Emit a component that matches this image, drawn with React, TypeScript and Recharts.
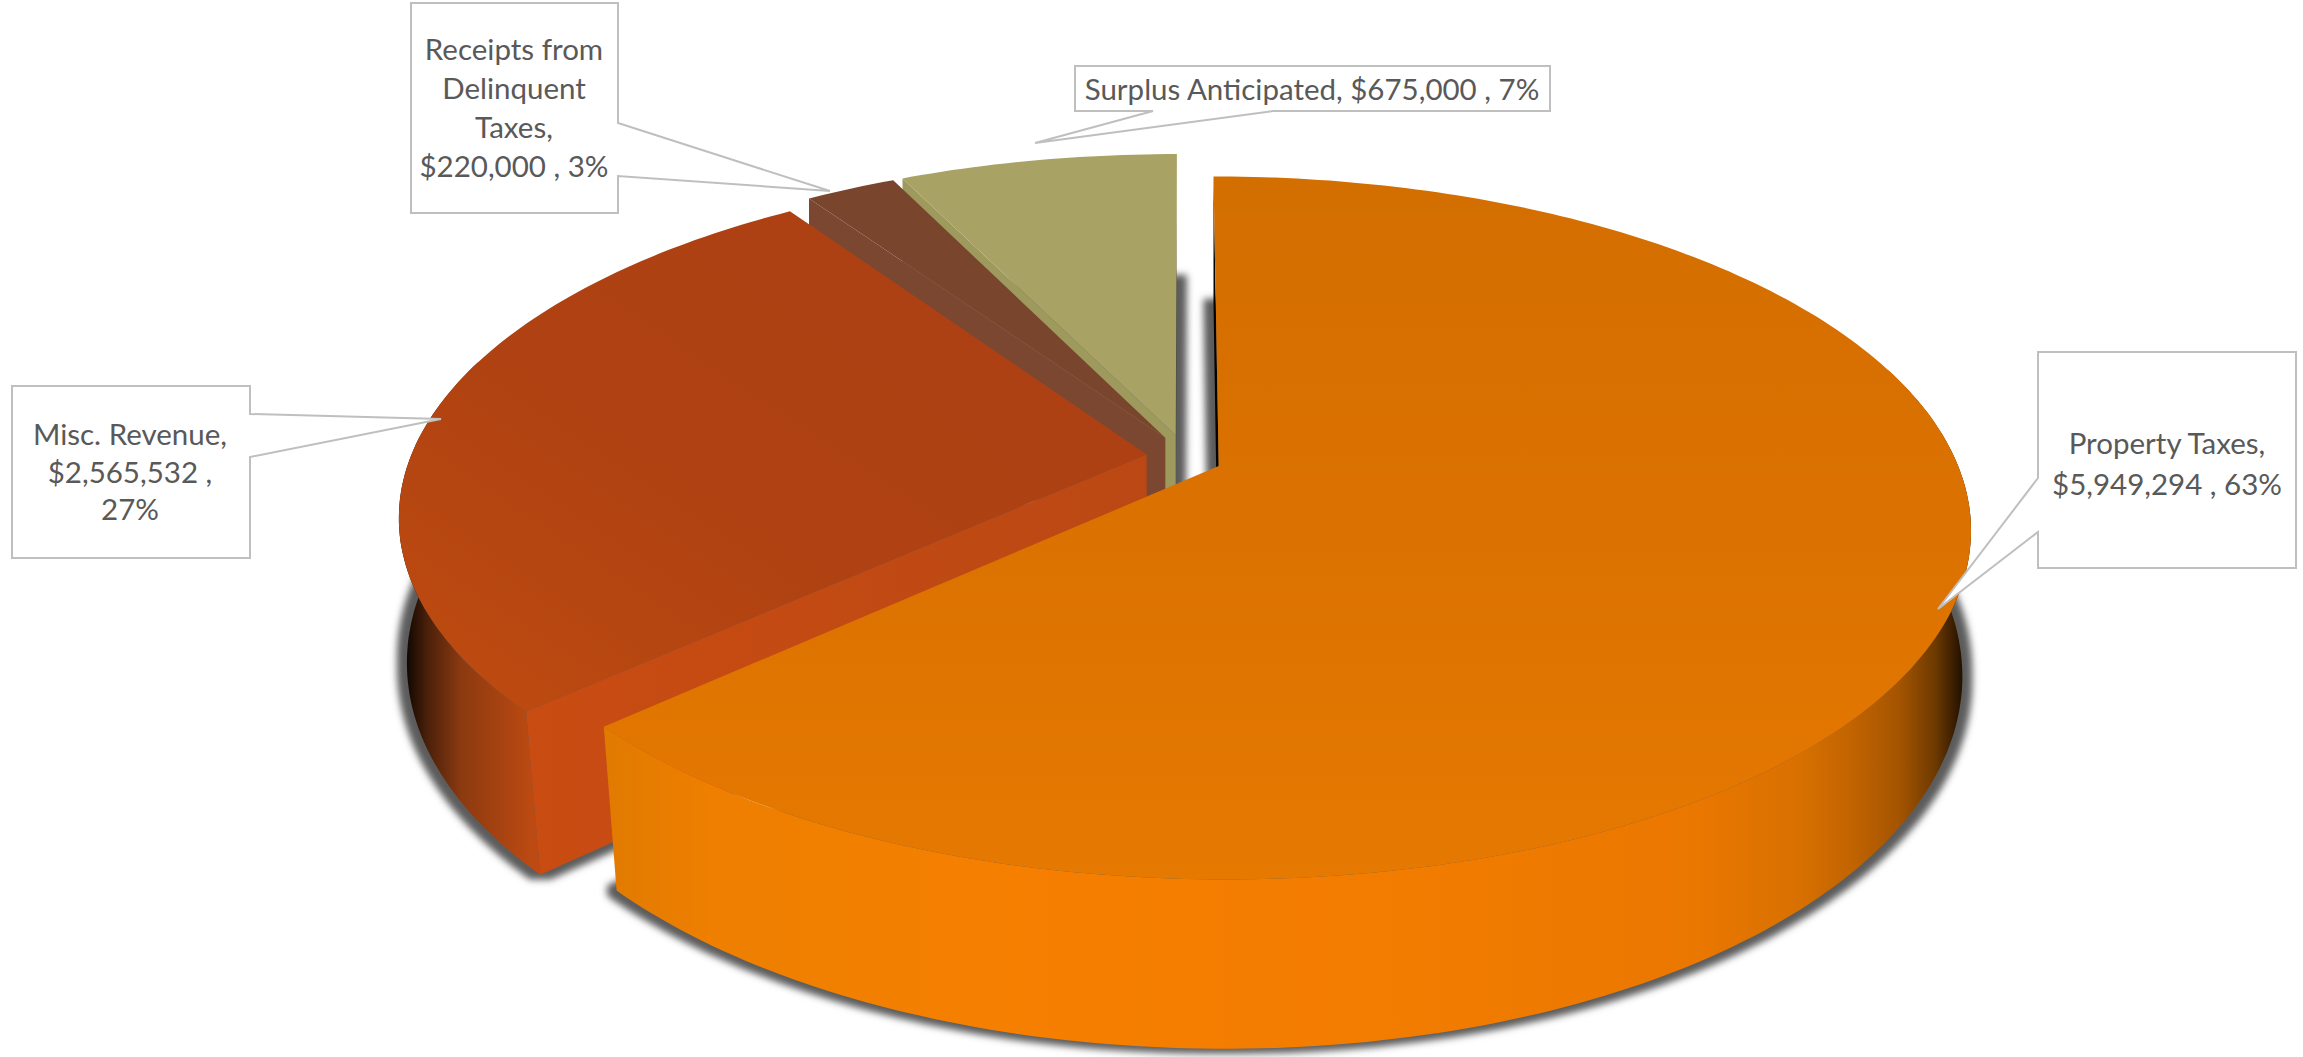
import React from "react";
import { PieChart, Pie } from "recharts";

// Revenue sources, ordered back to front so later slices paint over earlier ones.
const sourceNames = ["Surplus Anticipated", "Receipts from Delinquent Taxes", "Misc. Revenue", "Property Taxes"];
const sourceAmounts = [675000, 220000, 2565532, 5949294];
const calloutLines = [
  ["Surplus Anticipated, $675,000 , 7%"],
  ["Receipts from", "Delinquent", "Taxes,", "$220,000 , 3%"],
  ["Misc. Revenue,", "$2,565,532 ,", "27%"],
  ["Property Taxes,", "$5,949,294 , 63%"],
];

const rows = sourceNames.map((name, i) => ({ name, value: sourceAmounts[i] }));

// Callout geometry: box, wedge tip and the two wedge roots on the box outline.
const callouts = [
  { x: 1075, y: 66, w: 475, h: 45, side: "bottom", a: 1153, b: 1273, tipX: 1035, tipY: 143, firstLine: 99.5, step: 38, textX: 1312 },
  { x: 411, y: 3, w: 207, h: 210, side: "right", a: 123, b: 176, tipX: 830, tipY: 191, firstLine: 60, step: 39, textX: 514 },
  { x: 12, y: 386, w: 238, h: 172, side: "right", a: 414, b: 457, tipX: 441, tipY: 419, firstLine: 445, step: 37.5, textX: 130 },
  { x: 2038, y: 352, w: 258, h: 216, side: "left", a: 478, b: 532, tipX: 1938, tipY: 609, firstLine: 454, step: 41, textX: 2167 },
];

const topFills = ["#a9a265", "#79452c", "url(#miscTop)", "url(#propertyTop)"];
const wallFills = ["#8f8a55", "#63381f", "url(#miscWall)", "url(#propertyWall)"];
const startFaceFills = ["#4a4a3a", "#6e4028", "#8a3a10", "#b05c00"];
const endFaceFills = ["#9e995c", "#7c4730", "url(#miscFace)", "#050300"];

// Perspective model for the tilted disc.
const TILT = 0.4585;
const PERSPECTIVE = 0.175;
const THICKNESS = 149;
const DEPTH_SHRINK = 0.022;
const EXPLODE = 0.0513;
const EXPLODE_DEPTH_FACTOR = 1.3;
const ARC_STEP = 1;
const WALL_HORIZON = 0.3;

type Point = [number, number];

const project = (cx: number, cy: number, r: number, wx: number, wy: number, depth: number): Point => {
  const s = 1 / (1 - PERSPECTIVE * wy);
  // The lower rim pulls in more toward the viewer than at the sides of the disc.
  const k = 1 - DEPTH_SHRINK * depth * Math.max(0, 0.3 + wy);
  return [cx + r * wx * s * k, cy + r * TILT * wy * s * k + THICKNESS * depth * s];
};

const toPath = (pts: Point[]) =>
  pts.length ? pts.map((p, i) => `${i ? "L" : "M"}${p[0].toFixed(1)} ${p[1].toFixed(1)}`).join("") + "Z" : "";

const signedArea = (pts: Point[]) =>
  pts.reduce((sum, p, i) => {
    const q = pts[(i + 1) % pts.length];
    return sum + p[0] * q[1] - q[0] * p[1];
  }, 0);

const sliceFaces = (props: any) => {
  const { cx, cy, outerRadius: r, startAngle, endAngle } = props;
  const rad = Math.PI / 180;
  const mid = ((startAngle + endAngle) / 2) * rad;
  const ox = EXPLODE * Math.cos(mid);
  const oy = -EXPLODE * EXPLODE_DEPTH_FACTOR * Math.sin(mid);
  const rimAngles: number[] = [];
  for (let a = startAngle; a < endAngle; a += ARC_STEP) rimAngles.push(a);
  rimAngles.push(endAngle);
  const rim = (a: number, depth: number) =>
    project(cx, cy, r, ox + Math.cos(a * rad), oy - Math.sin(a * rad), depth);
  const apex = (depth: number) => project(cx, cy, r, ox, oy, depth);
  const frontAngles = rimAngles.filter((a) => Math.sin(a * rad) < WALL_HORIZON);
  const startPts = [apex(0), rim(startAngle, 0), rim(startAngle, 1), apex(1)];
  const endPts = [apex(0), rim(endAngle, 0), rim(endAngle, 1), apex(1)];
  return {
    top: toPath([apex(0), ...rimAngles.map((a) => rim(a, 0))]),
    bottom: toPath([apex(1), ...rimAngles.map((a) => rim(a, 1))]),
    wall: toPath([...frontAngles.map((a) => rim(a, 0)), ...frontAngles.slice().reverse().map((a) => rim(a, 1))]),
    // Radial cut faces are culled when they turn away from the viewer.
    startFace: signedArea(startPts) > 0 ? toPath(startPts) : "",
    endFace: signedArea(endPts) < 0 ? toPath(endPts) : "",
  };
};

const sliceIndex = (props: any) => sourceNames.indexOf(props.name ?? props.payload?.name);

const GroundShadow = (props: any) => {
  const f = sliceFaces(props);
  return <path d={f.bottom} fill="#5c5c5c" filter="url(#groundShadow)" />;
};

const ExtrudedSlice = (props: any) => {
  const i = sliceIndex(props);
  const f = sliceFaces(props);
  return (
    <g>
      {f.startFace && <path d={f.startFace} fill={startFaceFills[i]} />}
      {f.endFace && <path d={f.endFace} fill={endFaceFills[i]} />}
      {f.wall && <path d={f.wall} fill={wallFills[i]} />}
      <path d={f.top} fill={topFills[i]} />
    </g>
  );
};

const Callout = (props: any) => {
  const i = props.index;
  const c = callouts[i];
  const r = c.x + c.w;
  const b = c.y + c.h;
  let outline = "";
  if (c.side === "right") {
    outline = `M${c.x} ${c.y}H${r}V${c.a}L${c.tipX} ${c.tipY}L${r} ${c.b}V${b}H${c.x}Z`;
  } else if (c.side === "left") {
    outline = `M${c.x} ${c.y}H${r}V${b}H${c.x}V${c.b}L${c.tipX} ${c.tipY}L${c.x} ${c.a}Z`;
  } else {
    outline = `M${c.x} ${c.y}H${r}V${b}H${c.b}L${c.tipX} ${c.tipY}L${c.a} ${b}H${c.x}Z`;
  }
  return (
    <g>
      <path d={outline} fill="#ffffff" stroke="#bfbfbf" strokeWidth={2} />
      {calloutLines[i].map((line, n) => (
        <text
          key={line}
          x={c.textX}
          y={c.firstLine + n * c.step}
          textAnchor="middle"
          fontFamily="Lato, Carlito, sans-serif"
          fontSize={29.5}
          fill="#595959"
        >
          {line}
        </text>
      ))}
    </g>
  );
};

export default function App() {
  return (
    <div style={{ position: "absolute", left: 0, top: 0, width: 2303, height: 1057, background: "#ffffff" }}>
      <PieChart width={2303} height={1057} margin={{ top: 0, right: 0, bottom: 0, left: 0 }}>
        <defs>
          <filter id="groundShadow" filterUnits="userSpaceOnUse" x={0} y={0} width={2303} height={1057}>
            <feMorphology operator="dilate" radius="10 5" />
            <feGaussianBlur stdDeviation="3.5" />
          </filter>
          <linearGradient id="propertyTop" x1="0" y1="0" x2="0" y2="1">
            <stop offset="0" stopColor="#d36e00" />
            <stop offset="0.55" stopColor="#dc7200" />
            <stop offset="1" stopColor="#e67900" />
          </linearGradient>
          <linearGradient id="miscTop" x1="1" y1="0" x2="0" y2="1">
            <stop offset="0" stopColor="#ab4014" />
            <stop offset="0.6" stopColor="#b04212" />
            <stop offset="1" stopColor="#bf4c10" />
          </linearGradient>
          <linearGradient id="miscFace" gradientUnits="userSpaceOnUse" x1="530" y1="0" x2="1150" y2="0">
            <stop offset="0" stopColor="#c94c12" />
            <stop offset="1" stopColor="#bb4814" />
          </linearGradient>
          <linearGradient id="miscWall" gradientUnits="userSpaceOnUse" x1="404" y1="0" x2="532" y2="0">
            <stop offset="0" stopColor="#0a0400" />
            <stop offset="0.18" stopColor="#4a200a" />
            <stop offset="0.45" stopColor="#8c3a10" />
            <stop offset="1" stopColor="#bc4a12" />
          </linearGradient>
          <linearGradient id="propertyWall" gradientUnits="userSpaceOnUse" x1="600" y1="0" x2="1965" y2="0">
            <stop offset="0" stopColor="#e07a00" />
            <stop offset="0.08" stopColor="#ee7f00" />
            <stop offset="0.3" stopColor="#f67f00" />
            <stop offset="0.6" stopColor="#f27c00" />
            <stop offset="0.806" stopColor="#ea7700" />
            <stop offset="0.879" stopColor="#d87000" />
            <stop offset="0.916" stopColor="#c26400" />
            <stop offset="0.952" stopColor="#a45400" />
            <stop offset="0.978" stopColor="#6e3a00" />
            <stop offset="1" stopColor="#1a0d00" />
          </linearGradient>
        </defs>
        <Pie
          data={rows}
          dataKey="value"
          nameKey="name"
          cx={1184}
          cy={457}
          outerRadius={736}
          startAngle={90}
          endAngle={450}
          stroke="none"
          shape={GroundShadow}
          isAnimationActive={false}
        />
        <Pie
          data={rows}
          dataKey="value"
          nameKey="name"
          cx={1184}
          cy={457}
          outerRadius={736}
          startAngle={90}
          endAngle={450}
          stroke="none"
          shape={ExtrudedSlice}
          label={Callout}
          labelLine={false}
          isAnimationActive={false}
        />
      </PieChart>
    </div>
  );
}
